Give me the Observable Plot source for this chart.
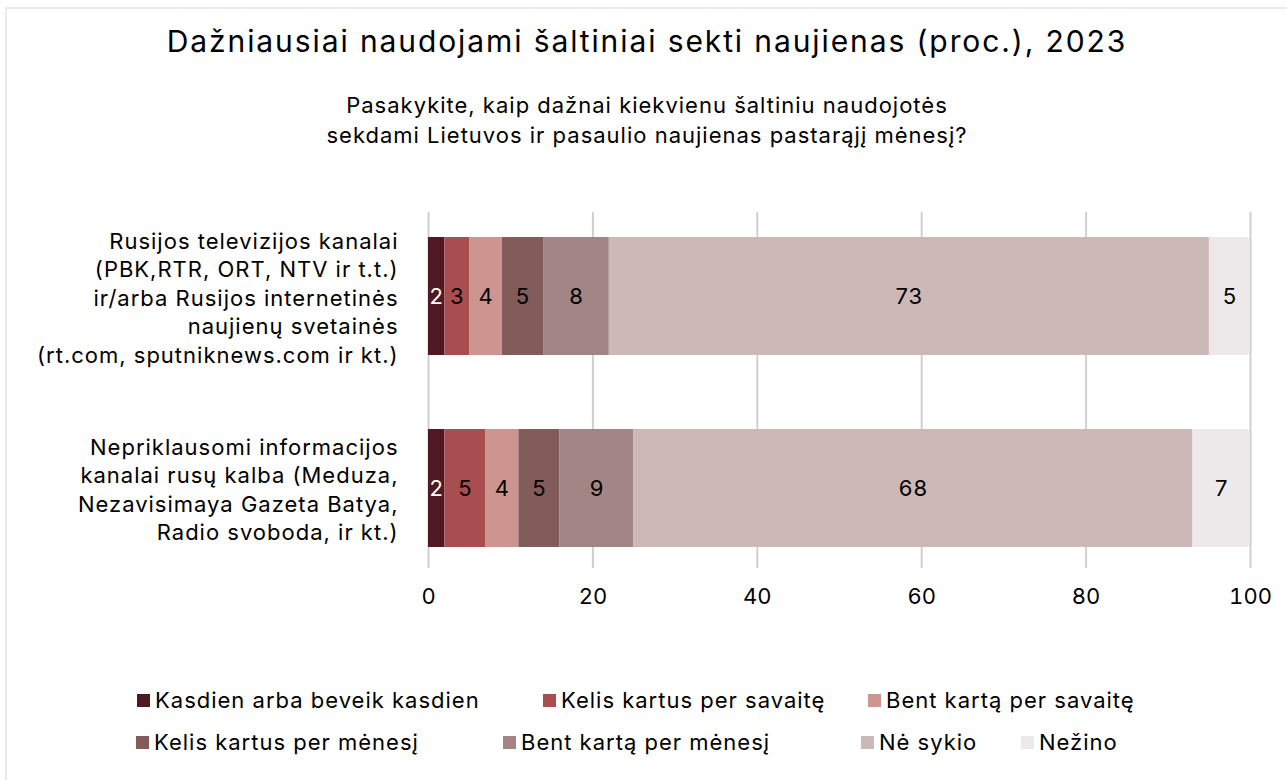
<!DOCTYPE html>
<html><head><meta charset="utf-8">
<script src="https://cdn.jsdelivr.net/npm/d3@7"></script>
<script src="https://cdn.jsdelivr.net/npm/@observablehq/plot@0.6"></script>
<style>
body{margin:0;background:#fff;font-family:Inter, "Noto Sans", sans-serif;color:#000}
#page{position:relative;width:1287px;height:780px;overflow:hidden;background:#fff}
#frame{position:absolute;left:5px;top:7px;width:1320px;height:820px;border:2px solid #eee9ea;box-sizing:border-box}
#title{position:absolute;left:0;width:1294px;top:21px;text-align:center;font-size:30px;line-height:40px;letter-spacing:1.9px}
#subtitle{position:absolute;left:0;width:1294px;top:90px;text-align:center;font-size:22px;line-height:30px;letter-spacing:1px}
#chart{position:absolute;left:0;top:180px}
#chart g[aria-label="text"] text{letter-spacing:1px}
.lg{position:absolute;font-size:22px;line-height:26px;white-space:nowrap;display:flex;align-items:center;letter-spacing:1px}
.sw{display:inline-block;width:13px;height:13px;margin-right:5px}
</style></head>
<body>
<div id="page">
  <div id="frame"></div>
  <div id="title">Dažniausiai naudojami šaltiniai sekti naujienas (proc.), 2023</div>
  <div id="subtitle">Pasakykite, kaip dažnai kiekvienu šaltiniu naudojotės<br>sekdami Lietuvos ir pasaulio naujienas pastarąjį mėnesį?</div>
  <div id="chart"></div>
  <div id="legend"></div>
</div>
<script>
const categories = [
  "Rusijos televizijos kanalai\n(PBK,RTR, ORT, NTV ir t.t.)\nir/arba Rusijos internetinės\nnaujienų svetainės\n(rt.com, sputniknews.com ir kt.)",
  "Nepriklausomi informacijos\nkanalai rusų kalba (Meduza,\nNezavisimaya Gazeta Batya,\nRadio svoboda, ir kt.)"
];
const series = [
  "Kasdien arba beveik kasdien",
  "Kelis kartus per savaitę",
  "Bent kartą per savaitę",
  "Kelis kartus per mėnesį",
  "Bent kartą per mėnesį",
  "Nė sykio",
  "Nežino"
];
const valuesRussianTV = [2, 3, 4, 5, 8, 73, 5];
const valuesIndependent = [2, 5, 4, 5, 9, 68, 7];
const colors = ["#4f1822", "#a84d50", "#cc9590", "#825b5b", "#a38586", "#cbb8b7", "#ede9ea"];
const xTicks = [0, 20, 40, 60, 80, 100];

const valueSets = [valuesRussianTV, valuesIndependent];
const rows = categories.flatMap((c, i) => series.map((s, j) => ({cat: c, series: s, value: valueSets[i][j]})));

const stackOpts = {x: "value", y: "cat", z: "series", order: series};

const chart = Plot.plot({
  width: 1287,
  height: 440,
  marginTop: 32,
  marginBottom: 48,
  marginLeft: 428,
  marginRight: 37,
  style: {fontFamily: "Inter, 'Noto Sans', sans-serif", fontSize: "22px", color: "#000", background: "transparent"},
  x: {domain: [0, 100], axis: null},
  y: {domain: categories, paddingInner: 0.385, paddingOuter: 0.13, axis: null},
  color: {domain: series, range: colors},
  marks: [
    Plot.ruleX(xTicks, {stroke: "#cfcfcf", strokeWidth: 2, insetBottom: 4}),
    Plot.barX(rows, Plot.stackX({...stackOpts, fill: "series"})),
    Plot.text(rows, Plot.filter(d => d.series === series[0], Plot.stackX({...stackOpts, text: d => String(d.value), fill: "white", fontSize: 22}))),
    Plot.text(rows, Plot.filter(d => d.series !== series[0], Plot.stackX({...stackOpts, text: d => String(d.value), fill: "black", fontSize: 22}))),
    Plot.text(categories, {y: d => d, text: d => d, frameAnchor: "left", textAnchor: "end", dx: -30, fontSize: 22, lineHeight: 1.295, fill: "black"}),
    Plot.axisX(xTicks, {tickSize: 0, tickPadding: 16, fontSize: 22, fill: "black", label: null})
  ]
});
document.getElementById("chart").appendChild(chart);

const legendPos = [
  [137, 700], [543, 700], [868, 700],
  [136, 742], [503, 742], [861, 742], [1021, 742]
];
const legend = document.getElementById("legend");
series.forEach((s, i) => {
  const el = document.createElement("div");
  el.className = "lg";
  el.style.left = legendPos[i][0] + "px";
  el.style.top = (legendPos[i][1] - 13) + "px";
  const sw = document.createElement("span");
  sw.className = "sw";
  sw.style.background = colors[i];
  el.appendChild(sw);
  el.appendChild(document.createTextNode(s));
  legend.appendChild(el);
});
</script>
</body></html>
